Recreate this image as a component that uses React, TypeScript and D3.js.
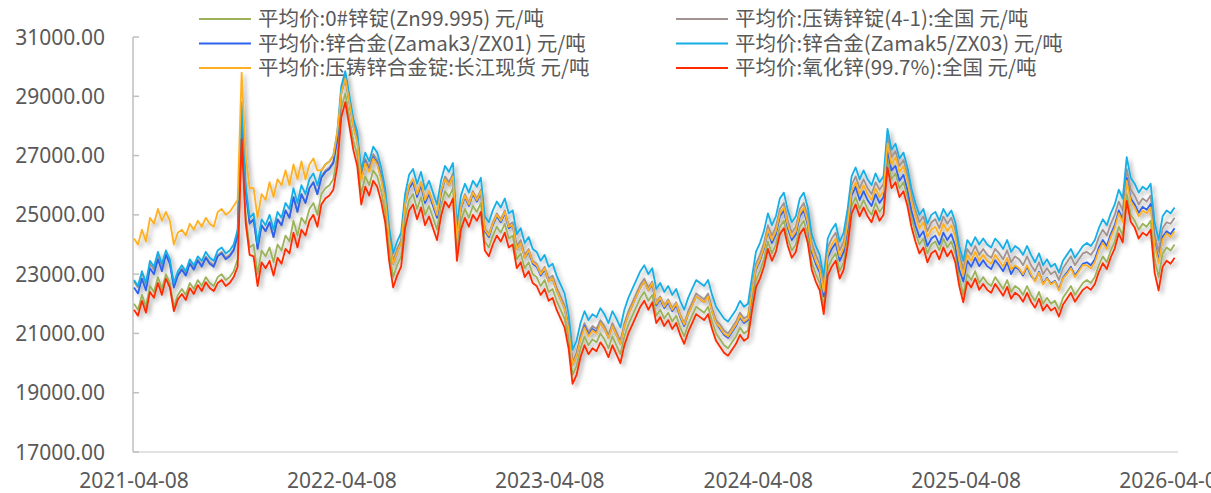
import React from "react";
import * as d3 from "d3";

// ---- data (weekly readings of 0# zinc ingot, from 2021-04-08) ----
const START_DATE = new Date(2021, 3, 8);
const END_DATE = new Date(2026, 3, 8);

const zincIngot: number[] = [
  22000,21800,22300,21900,22600,22400,22900,22500,23000,22700,21900,22300,22500,22300,22700,22500,22800,22600,22900,22700,22600,22900,23000,22800,22900,23100,23500,
  27800,25000,23900,24000,23000,23800,23600,23900,23400,24000,23800,24300,24100,24800,24300,24900,24700,25200,25400,25000,25700,25900,26000,26200,27000,
  28600,29100,28300,27500,27000,25700,26300,26000,26500,26300,25800,25100,23800,22900,23300,
  23600,24900,25500,25700,25200,25600,25000,25300,24900,24500,25300,25800,25600,25900,23800,24800,25200,24900,25300,25100,25400,24100,23900,24300,24600,24400,24700,24200,24300,
  23500,23700,23200,23400,23000,22900,22600,22800,22400,22500,22100,21800,21500,20800,19600,19900,20500,20900,20600,20800,20700,21000,20800,20500,20900,20600,20300,20900,21300,21600,21900,22200,22400,22100,22300,
  21600,21800,21500,21700,21400,21600,21200,20900,21300,21600,21900,21800,21700,21900,21400,21000,20800,20600,20500,20700,20900,21200,21000,21100,22000,22800,23100,23500,24100,23700,24000,24600,24800,24200,23800,24000,
  24600,24800,24300,23400,23000,22700,21900,23200,23500,23700,23100,23400,24200,25300,25600,25200,25500,25200,25000,25400,25100,25300,26900,26200,26400,25900,26100,25600,24900,24400,
  24000,24200,23700,24000,24100,23800,24200,23900,24100,23700,22900,22300,23000,22800,23100,22700,22900,22700,22600,22900,22700,22500,22800,22400,22600,22500,22300,22600,22300,22100,22400,22000,22200,22000,22100,21800,
  22200,22400,22600,22300,22500,22700,22800,22700,22900,23300,23600,23400,23800,24100,24600,24300,25700,25000,24800,24500,24700,24600,24800,23500,22900,23700,23900,23800,24000,
];

// monthly spreads vs 0# zinc ingot (index 0 = 2021-04)
const spreadDieCastIngot: number[] = [
  750,750,700,700,700,750,850,850,850,800,700,600,
  600,600,550,550,500,500,500,500,450,450,450,450,
  450,450,450,450,450,450,450,450,450,450,500,500,
  550,600,600,650,700,700,700,750,750,750,750,800,
  850,950,1000,1000,1000,1000,1000,950,900,850,850,850,
  900,
];
const spreadZamak3: number[] = [
  550,600,650,650,650,700,800,850,850,800,700,550,
  500,500,450,450,400,400,400,400,350,350,350,350,
  350,350,350,350,350,350,350,350,350,350,350,350,
  350,350,350,350,350,350,300,300,250,250,200,250,
  450,570,600,650,680,680,650,600,550,550,570,550,
  550,
];
const spreadZamak5: number[] = [
  800,850,800,800,850,900,1000,1050,1100,1100,1000,800,
  750,800,800,800,850,850,850,850,850,850,850,850,
  850,850,850,850,900,900,900,900,900,900,900,900,
  950,950,950,950,1000,1000,1000,1000,1000,1000,1000,1050,
  1150,1300,1350,1350,1300,1250,1250,1250,1250,1250,1250,1250,
  1250,
];
const spreadChangjiang: number[] = [
  2200,2300,2100,2000,2000,2200,2000,1900,2200,1900,1500,800,
  500,450,400,450,500,500,400,450,400,400,350,400,
  350,350,300,350,350,350,400,400,350,350,400,400,
  400,450,450,450,500,500,500,500,550,550,500,550,
  650,750,750,700,650,650,600,500,450,450,450,470,
  450,
];
const spreadZincOxide: number[] = [
  -200,-200,-150,-170,-170,-200,-250,-400,-450,-400,-400,-350,
  -300,-350,-350,-350,-350,-350,-350,-300,-300,-300,-300,-300,
  -300,-300,-300,-300,-300,-300,-250,-250,-250,-250,-250,-250,
  -250,-250,-250,-250,-250,-250,-250,-300,-300,-300,-300,-300,
  -250,-230,-230,-230,-230,-230,-230,-230,-230,-230,-300,-450,
  -450,
];

const seriesNames: string[] = [
  "平均价:0#锌锭(Zn99.995) 元/吨",
  "平均价:压铸锌锭(4-1):全国 元/吨",
  "平均价:锌合金(Zamak3/ZX01) 元/吨",
  "平均价:锌合金(Zamak5/ZX03) 元/吨",
  "平均价:压铸锌合金锭:长江现货 元/吨",
  "平均价:氧化锌(99.7%):全国 元/吨",
];
const seriesColors: string[] = ["#9BB25A", "#A39390", "#2F62EE", "#17AEE6", "#FFB021", "#FF2A00"];
const seriesSpreads: (number[] | null)[] = [null, spreadDieCastIngot, spreadZamak3, spreadZamak5, spreadChangjiang, spreadZincOxide];

const yTicks: number[] = [17000, 19000, 21000, 23000, 25000, 27000, 29000, 31000];
const xTickLabels: string[] = ["2021-04-08", "2022-04-08", "2023-04-08", "2024-04-08", "2025-04-08", "2026-04-08"];

// ---- layout ----
const W = 1211;
const H = 493;
const plotLeft = 133;
const plotRight = 1178;
const plotTop = 37;
const plotBottom = 452;

export default function App() {
  const dates = zincIngot.map((_, i) => d3.timeDay.offset(START_DATE, 7 * i));
  const x = d3.scaleTime().domain([START_DATE, END_DATE]).range([134, 1174]);
  const y = d3.scaleLinear().domain([17000, 31000]).range([plotBottom, plotTop]);

  const monthIdx = (d: Date) => (d.getFullYear() - 2021) * 12 + d.getMonth() - 3;

  const series = seriesNames.map((name, s) => {
    const sp = seriesSpreads[s];
    const pts = zincIngot.map((v, i) => {
      const m = Math.min(60, Math.max(0, monthIdx(dates[i])));
      return { d: dates[i], v: sp ? v + sp[m] : v };
    });
    return { name, color: seriesColors[s], pts };
  });

  const line = d3
    .line<{ d: Date; v: number }>()
    .x((p) => x(p.d))
    .y((p) => y(p.v));

  const font = "'Noto Sans', 'Noto Sans CJK SC', sans-serif";
  const legendFont = "'Noto Sans CJK SC', 'Noto Sans', sans-serif";
  const textColor = "#595959";

  const legendCols = [199, 676];
  const legendRows = [19, 43.5, 68];

  return (
    <div style={{ position: "fixed", left: 0, top: 0 }}>
      <svg width={W} height={H} style={{ display: "block", background: "#fff" }}>
        <defs>
          <filter id="shadow" x="-5%" y="-5%" width="110%" height="120%">
            <feDropShadow dx="3" dy="3" stdDeviation="2.2" floodColor="#000" floodOpacity="0.3" />
          </filter>
        </defs>

        {/* axes */}
        <line x1={plotLeft} x2={plotLeft} y1={plotTop} y2={plotBottom} stroke="#BFBFBF" strokeWidth={1.5} />
        <line x1={plotLeft} x2={plotRight} y1={plotBottom} y2={plotBottom} stroke="#D9D9D9" strokeWidth={1.5} />
        {yTicks.map((t) => (
          <g key={t}>
            <line x1={plotLeft} x2={plotLeft + 6} y1={y(t)} y2={y(t)} stroke="#BFBFBF" strokeWidth={1.5} />
            <text
              x={105}
              y={y(t)}
              dy="0.36em"
              textAnchor="end"
              fontFamily={font}
              fontSize={21}
              fill={textColor}
            >
              {t.toFixed(2)}
            </text>
          </g>
        ))}
        {xTickLabels.map((lab) => {
          const [yy, mm, dd] = lab.split("-").map(Number);
          return (
            <text
              key={lab}
              x={x(new Date(yy, mm - 1, dd))}
              y={488}
              textAnchor="middle"
              fontFamily={font}
              fontSize={21}
              fill={textColor}
            >
              {lab}
            </text>
          );
        })}

        {/* legend */}
        {series.map((s, i) => {
          const cx = legendCols[i % 2];
          const cy = legendRows[Math.floor(i / 2)];
          return (
            <g key={s.name}>
              <line x1={cx} x2={cx + 52} y1={cy} y2={cy} stroke={s.color} strokeWidth={2} />
              <text x={cx + 59} y={cy} dy="0.36em" fontFamily={legendFont} fontSize={20.5} fill={textColor}>
                {s.name}
              </text>
            </g>
          );
        })}

        {/* lines */}
        <g filter="url(#shadow)">
          {series.map((s) => (
            <path key={s.name} d={line(s.pts) || ""} fill="none" stroke={s.color} strokeWidth={1.8} strokeLinejoin="round" />
          ))}
        </g>
      </svg>
    </div>
  );
}
